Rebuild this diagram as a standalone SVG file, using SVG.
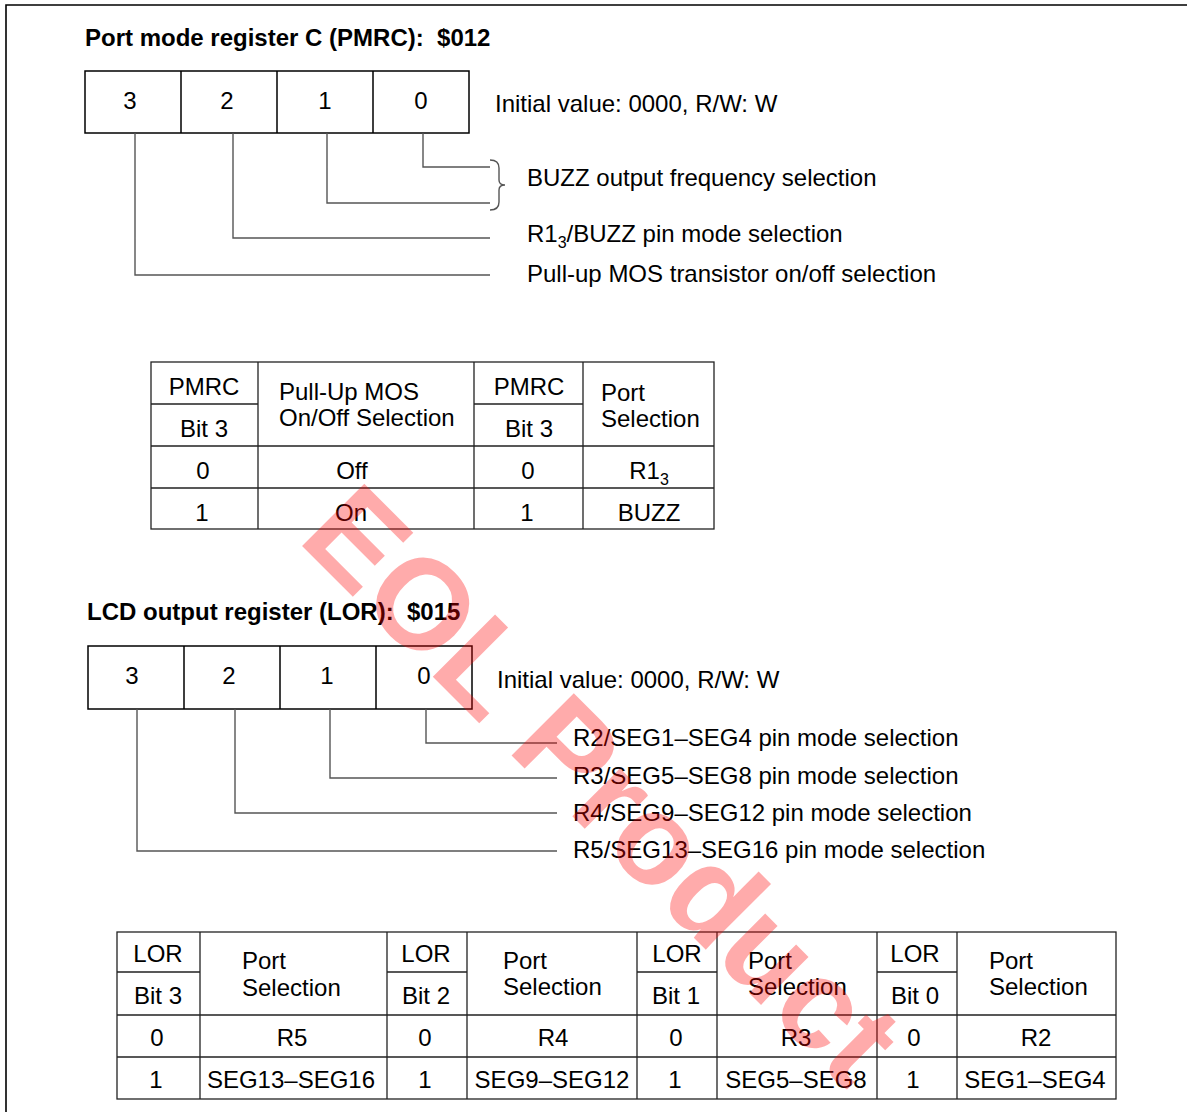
<svg xmlns="http://www.w3.org/2000/svg" width="1187" height="1112" viewBox="0 0 1187 1112">
<style>
text{font-family:"Liberation Sans",Arial,sans-serif;font-size:24px;fill:#000}
.b{font-weight:bold;white-space:pre}
.m{text-anchor:middle}
.box{fill:none;stroke:#000;stroke-width:1.5}
.lead{fill:none;stroke:#555;stroke-width:1.4}
.tbl{fill:none;stroke:#222;stroke-width:1.3}
.wm{font-family:"Liberation Sans",Arial,sans-serif;font-weight:bold;font-size:128px;fill:#ff0000;fill-opacity:0.33}
</style>
<rect width="1187" height="1112" fill="#fff"/>
<g id="page-border"><path d="M6,1112 V5 H1187" fill="none" stroke="#000" stroke-width="1.6"/></g>

<g id="pmrc-title"><text class="b" x="85" y="46" xml:space="preserve">Port mode register C (PMRC):  $012</text></g>
<g id="pmrc-register">
<rect class="box" x="85" y="71" width="384" height="62"/>
<path class="box" d="M181,71V133M277,71V133M373,71V133"/>
<text class="m" x="130" y="109">3</text>
<text class="m" x="227" y="109">2</text>
<text class="m" x="325" y="109">1</text>
<text class="m" x="421" y="109">0</text>
</g>
<g id="pmrc-initial"><text x="495" y="112">Initial value: 0000, R/W: W</text></g>
<g id="pmrc-connectors">
<path class="lead" d="M423,133V167H490M327,133V203H490M233,133V238H490M135,133V275H490"/>
<path class="lead" d="M490,160Q499,160 499,168V180Q499,185 505,185Q499,185 499,190V202Q499,210 490,210"/>
</g>
<g id="pmrc-labels">
<text x="527" y="186">BUZZ output frequency selection</text>
<text x="527" y="242">R1<tspan font-size="16" dy="6">3</tspan><tspan dy="-6">/BUZZ pin mode selection</tspan></text>
<text x="527" y="282">Pull-up MOS transistor on/off selection</text>
</g>

<g id="pmrc-table">
<rect class="tbl" x="151" y="362" width="563" height="167"/>
<path class="tbl" d="M258,362V529M474,362V529M583,362V529M151,404H258M474,404H583M151,446H714M151,488H714"/>
<text class="m" x="204" y="395">PMRC</text>
<text class="m" x="204" y="437">Bit 3</text>
<text x="279" y="400">Pull-Up MOS</text>
<text x="279" y="426">On/Off Selection</text>
<text class="m" x="529" y="395">PMRC</text>
<text class="m" x="529" y="437">Bit 3</text>
<text x="601" y="401">Port</text>
<text x="601" y="427">Selection</text>
<text class="m" x="203" y="479">0</text>
<text class="m" x="352" y="479">Off</text>
<text class="m" x="528" y="479">0</text>
<text class="m" x="649" y="479">R1<tspan font-size="16" dy="6">3</tspan></text>
<text class="m" x="202" y="521">1</text>
<text class="m" x="351" y="521">On</text>
<text class="m" x="527" y="521">1</text>
<text class="m" x="649" y="521">BUZZ</text>
</g>

<g id="lor-title"><text class="b" x="87" y="620" xml:space="preserve">LCD output register (LOR):  $015</text></g>
<g id="lor-register">
<rect class="box" x="88" y="646" width="384" height="63"/>
<path class="box" d="M184,646V709M280,646V709M376,646V709"/>
<text class="m" x="132" y="684">3</text>
<text class="m" x="229" y="684">2</text>
<text class="m" x="327" y="684">1</text>
<text class="m" x="424" y="684">0</text>
</g>
<g id="lor-initial"><text x="497" y="688">Initial value: 0000, R/W: W</text></g>
<g id="lor-connectors">
<path class="lead" d="M426,709V743H557M330,709V778H557M235,709V813H557M137,709V851H557"/>
</g>
<g id="lor-labels">
<text x="573" y="746">R2/SEG1–SEG4 pin mode selection</text>
<text x="573" y="784">R3/SEG5–SEG8 pin mode selection</text>
<text x="573" y="821">R4/SEG9–SEG12 pin mode selection</text>
<text x="573" y="858">R5/SEG13–SEG16 pin mode selection</text>
</g>

<g id="lor-table">
<rect class="tbl" x="117" y="932" width="999" height="167"/>
<path class="tbl" d="M200,932V1099M387,932V1099M467,932V1099M637,932V1099M717,932V1099M877,932V1099M957,932V1099M117,972H200M387,972H467M637,972H717M877,972H957M117,1015H1116M117,1057H1116"/>
<text class="m" x="158" y="962">LOR</text>
<text class="m" x="158" y="1004">Bit 3</text>
<text x="242" y="969">Port</text>
<text x="242" y="996">Selection</text>
<text class="m" x="426" y="962">LOR</text>
<text class="m" x="426" y="1004">Bit 2</text>
<text x="503" y="969">Port</text>
<text x="503" y="995">Selection</text>
<text class="m" x="677" y="962">LOR</text>
<text class="m" x="676" y="1004">Bit 1</text>
<text x="748" y="969">Port</text>
<text x="748" y="995">Selection</text>
<text class="m" x="915" y="962">LOR</text>
<text class="m" x="915" y="1004">Bit 0</text>
<text x="989" y="969">Port</text>
<text x="989" y="995">Selection</text>
<text class="m" x="157" y="1046">0</text>
<text class="m" x="292" y="1046">R5</text>
<text class="m" x="425" y="1046">0</text>
<text class="m" x="553" y="1046">R4</text>
<text class="m" x="676" y="1046">0</text>
<text class="m" x="796" y="1046">R3</text>
<text class="m" x="914" y="1046">0</text>
<text class="m" x="1036" y="1046">R2</text>
<text class="m" x="156" y="1088">1</text>
<text class="m" x="291" y="1088">SEG13–SEG16</text>
<text class="m" x="425" y="1088">1</text>
<text class="m" x="552" y="1088">SEG9–SEG12</text>
<text class="m" x="675" y="1088">1</text>
<text class="m" x="796" y="1088">SEG5–SEG8</text>
<text class="m" x="913" y="1088">1</text>
<text class="m" x="1035" y="1088">SEG1–SEG4</text>
</g>

<g id="watermark"><text class="wm" transform="translate(296,540) rotate(45)">EOL Product</text></g>
</svg>
